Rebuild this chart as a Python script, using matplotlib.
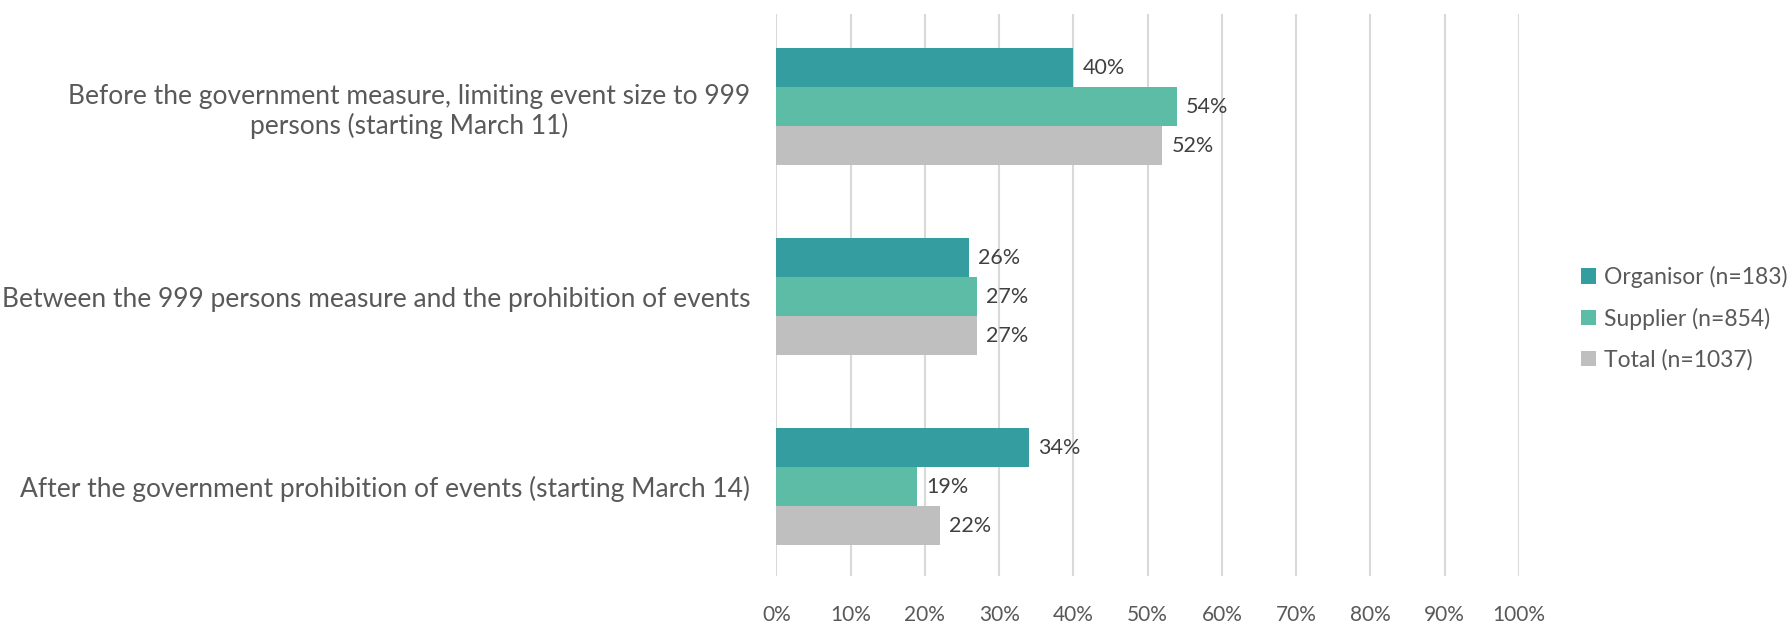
import numpy as np
import matplotlib.pyplot as plt

# =========================
# DATA
# =========================
categories = [
    "Before the government measure, limiting event size to 999\npersons (starting March 11)",
    "Between the 999 persons measure and the prohibition of events",
    "After the government prohibition of events (starting March 14)",
]
organisor = [40, 26, 34]
supplier = [54, 27, 19]
total = [52, 27, 22]
series_names = ["Organisor (n=183)", "Supplier (n=854)", "Total (n=1037)"]
colors = ["#339DA0", "#5DBCA6", "#BFBFBF"]
xticks = np.arange(0, 101, 10)

# =========================
# STYLE
# =========================
plt.rcParams['font.family'] = ['Lato', 'DejaVu Sans']
text_color = "#595959"

fig = plt.figure(figsize=(17.89, 6.24), dpi=100)
ax = fig.add_axes([0.434, 0.077, 0.415, 0.901])

y = np.arange(len(categories))
h = 0.206
for k, (vals, name, c) in enumerate(zip([organisor, supplier, total], series_names, colors)):
    pos = y + (k - 1) * h
    bars = ax.barh(pos, vals, height=h, color=c, label=name, zorder=3)
    for b, v in zip(bars, vals):
        ax.text(b.get_width() + 1.2, b.get_y() + h / 2, f"{v}%",
                va="center", ha="left", fontsize=15.5, color="#404040")

ax.set_xlim(0, 100)
ax.set_ylim(2.47, -0.49)
ax.set_xticks(xticks)
ax.set_xticklabels([f"{t}%" for t in xticks], fontsize=15, color=text_color)
ax.set_yticks(y)
ax.set_yticklabels(categories, fontsize=19, color=text_color, multialignment="center")
ax.tick_params(axis="both", length=0)
ax.tick_params(axis="y", pad=19)
ax.tick_params(axis="x", pad=21)
ax.grid(axis="x", color="#D9D9D9", linewidth=1.5, zorder=0)
for s in ax.spines.values():
    s.set_visible(False)

leg = fig.legend(loc="center left", bbox_to_anchor=(0.872, 0.49), frameon=False,
                 fontsize=16.5, handlelength=0.65, handleheight=0.65, handletextpad=0.35,
                 labelspacing=0.85, labelcolor=text_color)

fig.savefig("out.png", dpi=100)
